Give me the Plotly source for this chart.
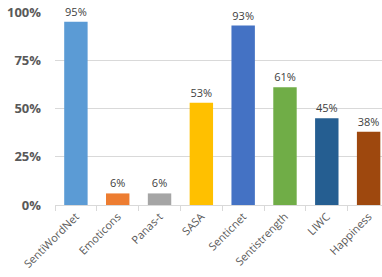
import plotly.graph_objects as go

categories = ["SentiWordNet", "Emoticons", "Panas-t", "SASA", "Senticnet", "Sentistrength", "LIWC", "Happiness"]
values = [0.95, 0.06, 0.06, 0.53, 0.93, 0.61, 0.45, 0.38]
labels = ["95%", "6%", "6%", "53%", "93%", "61%", "45%", "38%"]
colors = ["#5B9BD5", "#ED7D31", "#A5A5A5", "#FFC000", "#4472C4", "#70AD47", "#255E91", "#9E480E"]
ytick_vals = [0, 0.25, 0.5, 0.75, 1.0]
ytick_text = ["0%", "25%", "50%", "75%", "100%"]

fig = go.Figure(go.Bar(
    x=categories, y=values, marker_color=colors, marker_line_width=0,
    width=0.56, text=labels, textposition="outside", cliponaxis=False,
    textfont=dict(family="Open Sans", size=11, color="#404040"),
))

fig.update_layout(
    width=382, height=277,
    margin=dict(l=55, r=0, t=12, b=72, autoexpand=False),
    plot_bgcolor="white", paper_bgcolor="white",
    showlegend=False,
    font=dict(family="Open Sans", color="#595959"),
)
fig.update_xaxes(
    type="category", range=[-0.5, 7.32], automargin=False,
    tickangle=-45, tickfont=dict(size=11, color="#595959"),
    showline=True, linecolor="#D9D9D9", linewidth=1,
    ticks="outside", ticklen=5, tickcolor="#D9D9D9", tickson="boundaries",
    showgrid=False,
)
fig.update_yaxes(
    range=[0, 1], tickvals=ytick_vals, ticktext=ytick_text, automargin=False,
    tickfont=dict(size=13, color="#595959", family="Open Sans", weight="bold"),
    showgrid=True, gridcolor="#D9D9D9", gridwidth=1,
    zeroline=False, ticks="", ticklabelstandoff=13,
)

fig.write_html(
    "out.html",
    config={"displayModeBar": False},
    post_script="document.body.style.margin='0px';document.body.style.overflow='hidden';",
)
